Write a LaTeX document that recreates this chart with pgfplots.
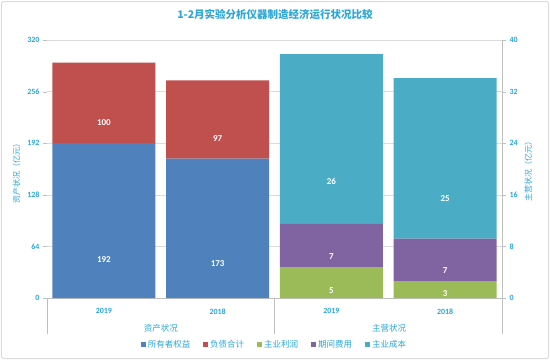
\documentclass[border=0pt]{standalone}
\usepackage{fontspec}
\setmainfont{Carlito}
\newfontfamily\cjk{Noto Sans CJK SC}
\usepackage{pgfplots}
\usepackage{pgfplotstable}
\pgfplotsset{compat=1.18}

\definecolor{cblue}{HTML}{4F81BD}
\definecolor{cred}{HTML}{C0504D}
\definecolor{cgreen}{HTML}{9BBB59}
\definecolor{cpurple}{HTML}{8064A2}
\definecolor{ccyan}{HTML}{4BACC6}
\definecolor{txt}{HTML}{2CA6D6}
\definecolor{gridc}{HTML}{DCDCDC}
\definecolor{axc}{HTML}{BFBFBF}

\pgfplotstableread{
x v lab
0 192 192
1 173 173
}\equity
\pgfplotstableread{
x v lab
0 100 100
1 97 97
}\debt
\pgfplotstableread{
x v lab
2 4.8 5
3 2.6 3
}\profit
\pgfplotstableread{
x v lab
2 6.7 7
3 6.6 7
}\expense
\pgfplotstableread{
x v lab
2 26.3 26
3 24.9 25
}\cost

\pgfplotsset{
  base/.style={
    scale only axis, width=455pt, height=258pt,
    at={(0,0)}, anchor=south west,
    xmin=-0.5, xmax=3.5,
    ybar stacked, bar width=0.905,
    /pgf/number format/assume math mode=true,
    tick label style={font=\bfseries\fontsize{8}{9}\selectfont, text=txt},
    ytick style={draw=axc}, tick align=outside, major tick length=4pt,
    nodes near coords, point meta=explicit symbolic,
    visualization depends on={\thisrow{v} \as \rawv},
  },
}

\begin{document}
\begin{tikzpicture}
\path[use as bounding box] (-47pt,-62pt) rectangle (503pt,298pt);
\draw[gridc, line width=1pt, rounded corners=2pt] (-45.5pt,-60.5pt) rectangle (501.5pt,296.5pt);

\begin{axis}[base,
  ymin=0, ymax=320, ytick={0,64,...,320},
  axis x line*=bottom, axis y line*=left,
  x axis line style={draw=axc}, y axis line style={draw=none},
  xtick={0,1,2,3}, xticklabels={2019,2018,2019,2018},
  xtick style={draw=none},
  xticklabel style={yshift=-3pt},
  ymajorgrids, grid style={gridc},
  ylabel={\cjk 资产状况（亿元）},
  ylabel style={font=\fontsize{8}{9}\selectfont, text=txt, at={(ticklabel cs:0.5,0)}, xshift=-2pt},
  every node near coord/.append style={anchor=center, font=\bfseries\fontsize{9}{10}\selectfont, text=white, yshift=-\rawv*0.2015625pt},
]
\addplot[fill=cblue, draw=none] table[x=x, y=v, meta=lab] {\equity};
\addplot[fill=cred, draw=none] table[x=x, y=v, meta=lab] {\debt};
\end{axis}

\begin{axis}[base,
  ymin=0, ymax=40, ytick={0,8,...,40},
  axis x line=none, axis y line*=right,
  y axis line style={draw=axc, line width=1pt},
  ylabel={\cjk 主营状况（亿元）},
  ylabel style={font=\fontsize{8}{9}\selectfont, text=txt},
  every node near coord/.append style={anchor=center, font=\bfseries\fontsize{9}{10}\selectfont, text=white, yshift=-\rawv*1.6125pt},
  legend columns=5,
  legend style={at={(0.5,-0.182)}, anchor=center, draw=none, fill=none,
    font=\cjk\fontsize{8.5}{10}\selectfont, text=txt,
    /tikz/every even column/.append style={column sep=11pt}},
  legend image code/.code={\fill[#1] (0pt,-2.5pt) rectangle (5pt,2.5pt);},
]
\addlegendimage{fill=cblue, draw=none}
\addlegendentry{所有者权益}
\addlegendimage{fill=cred, draw=none}
\addlegendentry{负债合计}
\addplot[fill=cgreen, draw=none] table[x=x, y=v, meta=lab] {\profit};
\addlegendentry{主业利润}
\addplot[fill=cpurple, draw=none] table[x=x, y=v, meta=lab] {\expense};
\addlegendentry{期间费用}
\addplot[fill=ccyan, draw=none] table[x=x, y=v, meta=lab] {\cost};
\addlegendentry{主业成本}
\end{axis}

\draw[axc] (0pt,0pt) -- (0pt,-36pt);
\draw[axc] (227.5pt,0pt) -- (227.5pt,-36pt);
\draw[axc] (455pt,0pt) -- (455pt,-36pt);
\node[font=\cjk\fontsize{8.5}{10}\selectfont, text=txt] at (114pt,-30pt) {资产状况};
\node[font=\cjk\fontsize{8.5}{10}\selectfont, text=txt] at (342pt,-30pt) {主营状况};
\node[font=\cjk\bfseries\fontsize{10.5}{12}\selectfont, text=txt] at (228pt,283pt) {1-2月实验分析仪器制造经济运行状况比较};
\end{tikzpicture}
\end{document}
